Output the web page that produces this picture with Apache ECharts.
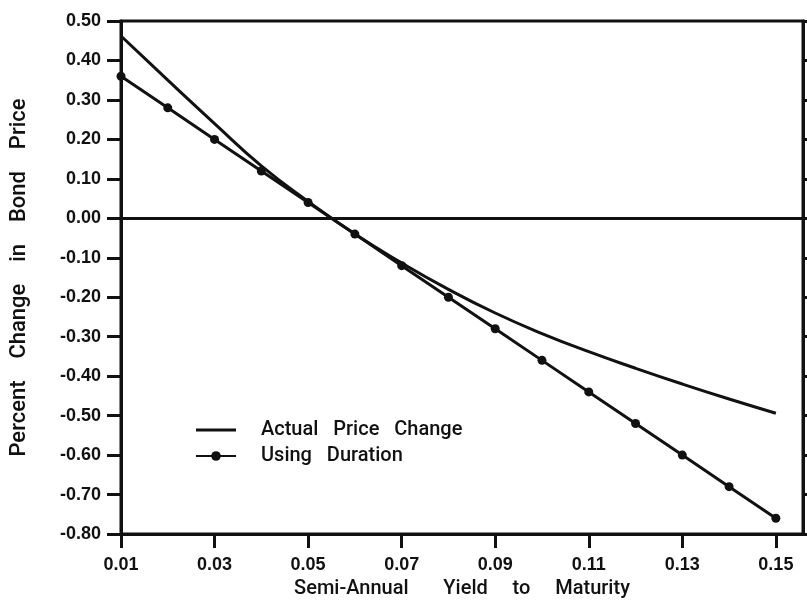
<!DOCTYPE html>
<html>
<head>
<meta charset="utf-8">
<script src="https://cdn.jsdelivr.net/npm/echarts@6/dist/echarts.min.js"></script>
<style>
html,body{margin:0;padding:0;background:#fff;}
#chart{width:807px;height:610px;}
</style>
</head>
<body>
<div id="chart"></div>
<script>
var yields = [0.01,0.02,0.03,0.04,0.05,0.06,0.07,0.08,0.09,0.10,0.11,0.12,0.13,0.14,0.15];
var actualChange = [0.462,0.350,0.240,0.133,0.043,-0.040,-0.113,-0.180,-0.240,-0.292,-0.338,-0.380,-0.420,-0.458,-0.494];
var durationChange = [0.36,0.28,0.20,0.12,0.04,-0.04,-0.12,-0.20,-0.28,-0.36,-0.44,-0.52,-0.60,-0.68,-0.76];
var xTicks = [0.01,0.03,0.05,0.07,0.09,0.11,0.13,0.15];
var seriesNames = ['Actual Price Change','Using Duration'];
var legendLabels = ['Actual   Price   Change','Using   Duration'];
var xTitle = 'Semi-Annual       Yield     to     Maturity';
var yTitle = 'Percent    Change    in    Bond    Price';

var FONT = '"Liberation Sans", Arial, sans-serif';
var TFONT = 'Roboto, "Liberation Sans", sans-serif';
var chart = echarts.init(document.getElementById('chart'), null, {renderer:'canvas'});
chart.setOption({
  backgroundColor:'#fff',
  animation:false,
  grid:{left:120,right:4,top:21,bottom:76,show:true,borderColor:'#111',borderWidth:3},
  legend:{
    orient:'vertical', left:190, top:415, itemWidth:40, itemHeight:12, itemGap:6,
    textStyle:{fontFamily:TFONT,fontSize:20,fontWeight:500,color:'#111',padding:[0,0,0,20]},
    formatter:function(n){return legendLabels[seriesNames.indexOf(n)];},
    data:[{name:seriesNames[0],icon:'path://M0,0 L40,0 L40,3.2 L0,3.2 Z'},{name:seriesNames[1]}]
  },
  xAxis:{
    type:'value', min:0.01, max:0.1558,
    name:xTitle, nameLocation:'middle', nameGap:45,
    nameTextStyle:{fontFamily:TFONT,fontSize:20,fontWeight:500,color:'#111'},
    axisLine:{show:true,onZero:false,lineStyle:{color:'#111',width:3}},
    axisTick:{show:true,length:14,lineStyle:{color:'#111',width:3},customValues:xTicks},
    axisLabel:{fontFamily:FONT,fontSize:18,fontWeight:'bold',color:'#111',margin:22,
      customValues:xTicks, formatter:function(v){return v.toFixed(2);}},
    splitLine:{show:false}
  },
  yAxis:[{
    type:'value', min:-0.8, max:0.5, interval:0.1,
    name:yTitle, nameLocation:'middle', nameGap:91,
    nameTextStyle:{fontFamily:TFONT,fontSize:22,fontWeight:500,color:'#111'},
    axisLine:{show:true,onZero:false,lineStyle:{color:'#111',width:3}},
    axisTick:{show:true,length:14,lineStyle:{color:'#111',width:3}},
    axisLabel:{fontFamily:FONT,fontSize:18,fontWeight:'bold',color:'#111',margin:20,
      formatter:function(v){return v.toFixed(2);}},
    splitLine:{show:false}
  },{
    type:'value', min:-0.8, max:0.5, interval:0.1, position:'right',
    axisLine:{show:true,onZero:false,lineStyle:{color:'#111',width:3}},
    axisTick:{show:true,length:6,lineStyle:{color:'#111',width:3}},
    axisLabel:{show:false}, splitLine:{show:false}
  }],
  series:[{
    name:seriesNames[0], type:'line', smooth:true, showSymbol:false, symbol:'none',
    data:yields.map(function(x,i){return [x,actualChange[i]];}),
    lineStyle:{color:'#111',width:3}, itemStyle:{color:'#111'},
    markLine:{silent:true,symbol:'none',label:{show:false},
      lineStyle:{color:'#111',width:3,type:'solid'},data:[{yAxis:0}]}
  },{
    name:seriesNames[1], type:'line', symbol:'circle', symbolSize:9,
    data:yields.map(function(x,i){return [x,durationChange[i]];}),
    lineStyle:{color:'#111',width:3}, itemStyle:{color:'#111'}
  }]
});
</script>
</body>
</html>
